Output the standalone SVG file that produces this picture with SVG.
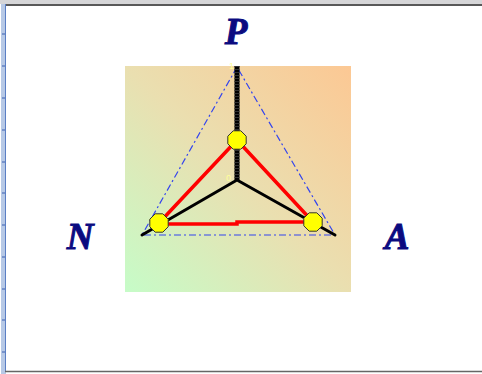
<svg xmlns="http://www.w3.org/2000/svg" width="482" height="374" viewBox="0 0 482 374">
<defs>
<linearGradient id="bg" x1="0" y1="1" x2="1" y2="0">
<stop offset="0" stop-color="#c6fcc8"/>
<stop offset="0.5" stop-color="#eadfb0"/>
<stop offset="1" stop-color="#fcc894"/>
</linearGradient>
<style>
.lbl{font-family:"Liberation Serif","DejaVu Serif",serif;font-weight:bold;font-style:italic;font-size:37px;fill:#0b0b80;stroke:#0b0b80;stroke-width:1;text-anchor:middle}
.tiny{font-family:"Liberation Sans",sans-serif;font-size:9px;fill:#ffff99}
.red{stroke:#ff0000;stroke-width:3.5;fill:none;stroke-linecap:round}
.blk{stroke:#000;stroke-width:3;fill:none;stroke-linecap:round}
.blue{stroke:#3344ee;stroke-width:1.2;fill:none;stroke-dasharray:7 3 2 3}
.oct{fill:#ffff00;stroke:#333;stroke-width:1}
</style>
</defs>
<rect x="0" y="0" width="482" height="374" fill="#ffffff"/>
<rect x="0" y="0" width="482" height="4" fill="#d6d6d8"/>
<line x1="5" y1="5" x2="482" y2="5" stroke="#222" stroke-width="1.5"/>
<rect x="1" y="4" width="5" height="370" fill="#b7c9e6"/>
<line x1="5.5" y1="4" x2="5.5" y2="372" stroke="#5b7fc4" stroke-width="1"/>
<g stroke="#3a5fb0" stroke-width="1">
<line x1="2" y1="34" x2="5" y2="34"/><line x1="2" y1="66" x2="5" y2="66"/><line x1="2" y1="98" x2="5" y2="98"/>
<line x1="2" y1="130" x2="5" y2="130"/><line x1="2" y1="162" x2="5" y2="162"/><line x1="2" y1="193" x2="5" y2="193"/>
<line x1="2" y1="225" x2="5" y2="225"/><line x1="2" y1="257" x2="5" y2="257"/><line x1="2" y1="289" x2="5" y2="289"/>
<line x1="2" y1="320" x2="5" y2="320"/><line x1="2" y1="352" x2="5" y2="352"/>
</g>
<line x1="5" y1="371.5" x2="482" y2="371.5" stroke="#666" stroke-width="1.5"/>
<rect x="125" y="66" width="226" height="226" fill="url(#bg)"/>
<text class="tiny" x="229" y="69">1</text>
<text class="tiny" x="226" y="181">0</text>
<g id="connectors">
<path class="blue" d="M237 67 L142 235 L335 235 Z"/>
<line x1="237" y1="66" x2="237" y2="180" stroke="#000" stroke-width="5"/>
<line x1="237" y1="66" x2="237" y2="180" stroke="#333" stroke-width="5" stroke-dasharray="1 2"/>
<path class="blk" d="M237 180 L142 235 M237 180 L335 235"/>
<path class="red" d="M237 140 L159 223 M237 140 L313 222 M159 224 L237 224 L237 222 L313 222"/>
</g>
<g id="node-P"><text class="lbl" x="236" y="44">P</text></g>
<g id="node-N"><text class="lbl" x="80" y="249">N</text></g>
<g id="node-A"><text class="lbl" x="397" y="249">A</text></g>
<g id="node-top"><polygon class="oct" points="240.8,130.8 246.2,136.2 246.2,143.8 240.8,149.2 233.2,149.2 227.8,143.8 227.8,136.2 233.2,130.8"/></g>
<g id="node-left"><polygon class="oct" points="162.8,213.8 168.2,219.2 168.2,226.8 162.8,232.2 155.2,232.2 149.8,226.8 149.8,219.2 155.2,213.8"/></g>
<g id="node-right"><polygon class="oct" points="316.8,212.8 322.2,218.2 322.2,225.8 316.8,231.2 309.2,231.2 303.8,225.8 303.8,218.2 309.2,212.8"/></g>
</svg>
